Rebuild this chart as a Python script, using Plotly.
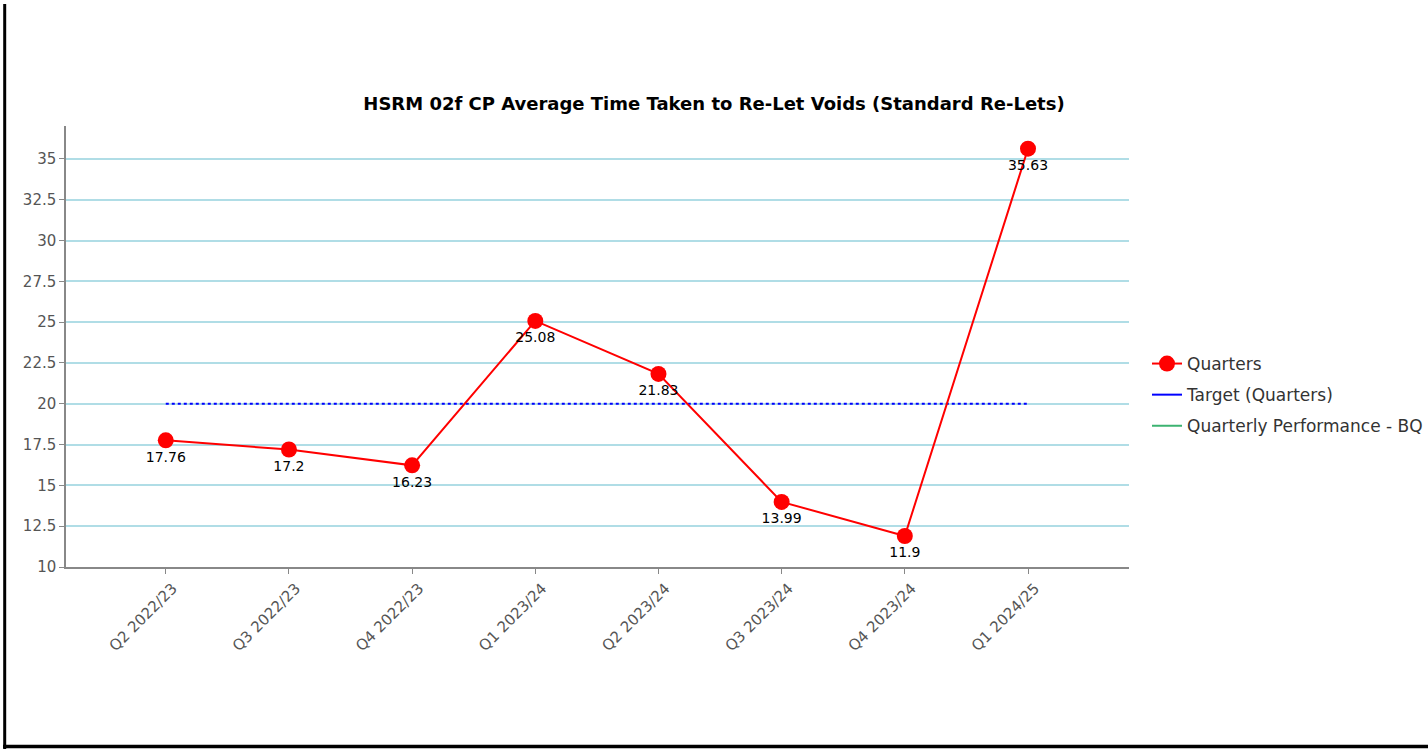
import plotly.graph_objects as go

# Quarterly figures: average days taken to re-let standard voids
quarters = ["Q2 2022/23", "Q3 2022/23", "Q4 2022/23", "Q1 2023/24",
            "Q2 2023/24", "Q3 2023/24", "Q4 2023/24", "Q1 2024/25"]
actual_days = [17.76, 17.2, 16.23, 25.08, 21.83, 13.99, 11.9, 35.63]
target_days = [20, 20, 20, 20, 20, 20, 20, 20]
y_ticks = [10, 12.5, 15, 17.5, 20, 22.5, 25, 27.5, 30, 32.5, 35]

W, H = 1428, 749
ML, MR, MT, MB = 66, 299, 126, 182
PW, PH = W - ML - MR, H - MT - MB


def px_x(p):
    return (p - ML) / PW


def px_y(p):
    return (H - MB - p) / PH


fig = go.Figure()

# Target drawn dotted in the plot
fig.add_trace(go.Scatter(
    x=quarters, y=target_days, mode="lines",
    line=dict(color="#0000ff", width=2, dash="dot"),
    showlegend=False, hoverinfo="skip",
))

fig.add_trace(go.Scatter(
    x=quarters, y=actual_days, mode="lines+markers+text",
    name="Quarters", legendgroup="g1",
    line=dict(color="#ff0000", width=2),
    marker=dict(color="#ff0000", size=16),
    text=[f"{v:g}" for v in actual_days],
    textposition="bottom center",
    textfont=dict(family="DejaVu Sans", size=14, color="#000000"),
))

# Legend entries
fig.add_trace(go.Scatter(
    x=[None], y=[None], mode="lines", name="Target (Quarters)",
    legendgroup="g2",
    line=dict(color="#0000ff", width=2),
))
fig.add_trace(go.Scatter(
    x=[None], y=[None], mode="lines", name="Quarterly Performance - BQ",
    legendgroup="g3",
    line=dict(color="#3cb371", width=2),
))

fig.update_layout(
    width=W, height=H,
    margin=dict(l=ML, r=MR, t=MT, b=MB, autoexpand=False),
    paper_bgcolor="#ffffff", plot_bgcolor="#ffffff",
    title=dict(
        text="<b>HSRM 02f CP Average Time Taken to Re-Let Voids (Standard Re-Lets)</b>",
        x=0.5, xref="container", xanchor="center",
        y=1 - 104 / H, yref="container", yanchor="middle",
        font=dict(family="DejaVu Sans", size=18, color="#000000"),
    ),
    legend=dict(
        x=px_x(1147), xanchor="left",
        y=px_y(346), yanchor="top",
        font=dict(family="DejaVu Sans", size=17, color="#333333"),
        bgcolor="rgba(0,0,0,0)", borderwidth=0,
        tracegroupgap=6,
    ),
    showlegend=True,
    xaxis=dict(
        type="category", range=[-0.81, 7.82],
        showgrid=False, zeroline=False,
        showline=True, linecolor="#888888", linewidth=1.5,
        ticks="outside", ticklen=5, tickcolor="#888888",
        tickangle=-45, ticklabelshift=7,
        tickfont=dict(family="DejaVu Sans", size=15, color="#555555"),
    ),
    yaxis=dict(
        range=[10, 37.02],
        tickvals=y_ticks, ticktext=[f"{v:g}" for v in y_ticks],
        showgrid=True, gridcolor="#b0dde6", gridwidth=1.5,
        zeroline=False,
        showline=True, linecolor="#888888", linewidth=1.5,
        ticks="outside", ticklen=5, tickcolor="#888888",
        tickfont=dict(family="DejaVu Sans", size=15, color="#555555"),
    ),
    shapes=[
        dict(type="line", xref="paper", yref="paper",
             x0=px_x(4.7), x1=px_x(4.7), y0=px_y(4), y1=px_y(749),
             line=dict(color="#000000", width=3)),
        dict(type="line", xref="paper", yref="paper",
             x0=px_x(3), x1=px_x(1428), y0=px_y(746.6), y1=px_y(746.6),
             line=dict(color="#000000", width=3.5)),
    ],
)

fig.write_html("out.html")
